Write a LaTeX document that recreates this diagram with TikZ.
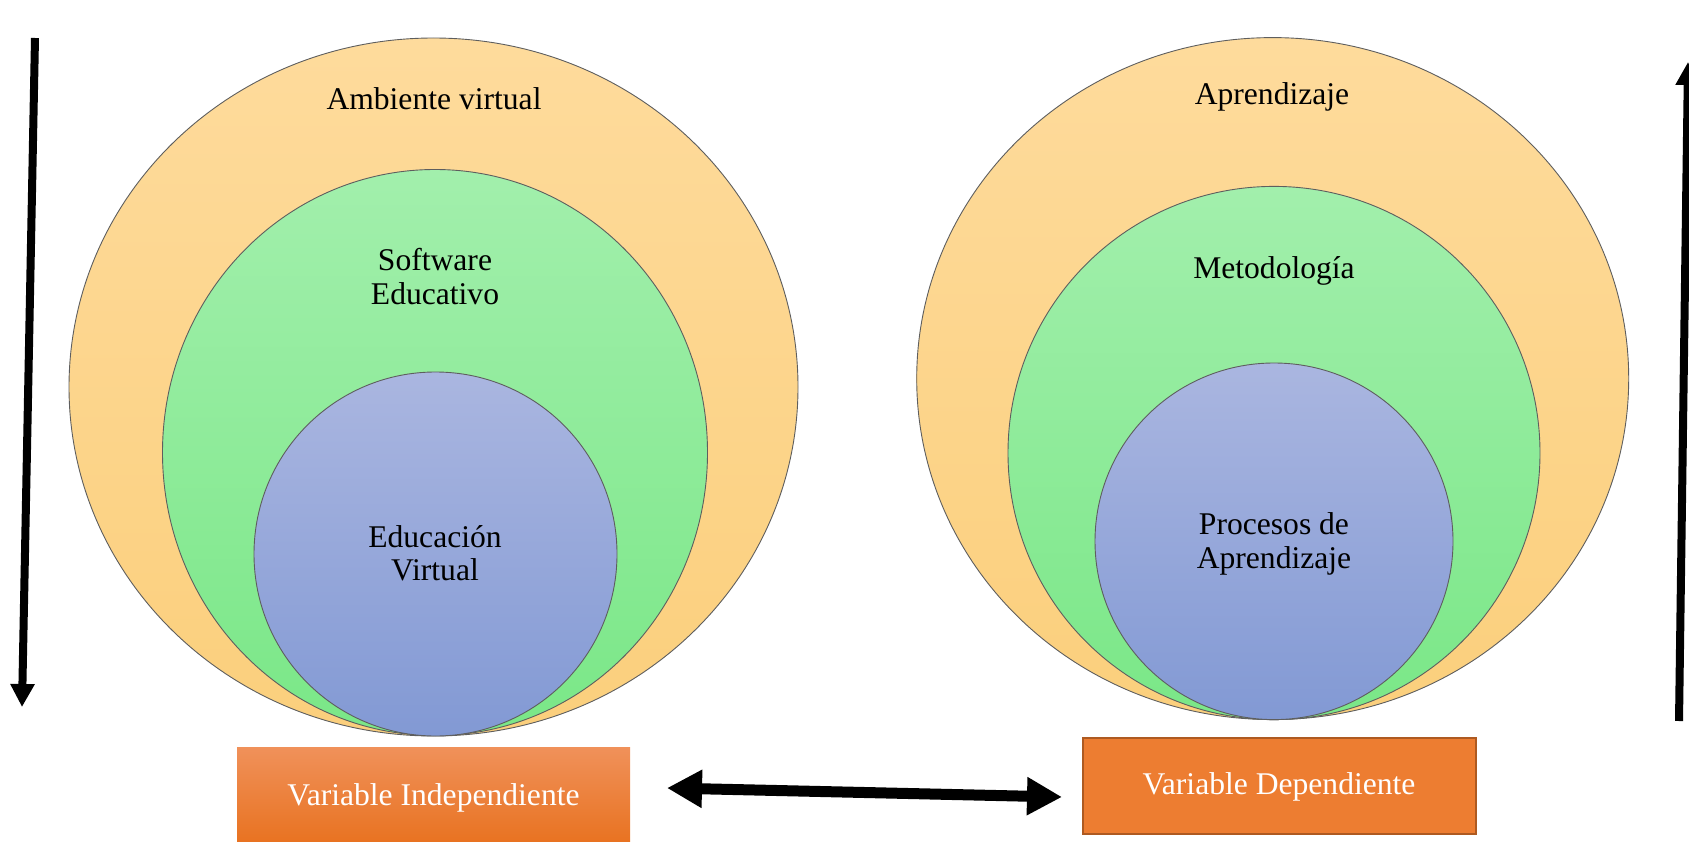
\documentclass[tikz,border=0pt]{standalone}
\usepackage{fontspec}
\setmainfont{Liberation Serif}
\usetikzlibrary{arrows.meta,calc}
\definecolor{orTop}{HTML}{FEDB9C}
\definecolor{orBot}{HTML}{FBCF7C}
\definecolor{grTop}{HTML}{A2EFAC}
\definecolor{grBot}{HTML}{7AE787}
\definecolor{blTop}{HTML}{AAB6E0}
\definecolor{blBot}{HTML}{8299D4}
\definecolor{rimcol}{HTML}{5E5E5E}
\definecolor{boxTop}{HTML}{F0915A}
\definecolor{boxBot}{HTML}{E8711E}
\definecolor{boxFill}{HTML}{ED7D31}
\definecolor{boxRim}{HTML}{AE5A21}
\tikzset{
  ring/.style={draw=rimcol, line width=0.9pt},
  outerring/.style={ring, top color=orTop, bottom color=orBot},
  midring/.style={ring, top color=grTop, bottom color=grBot},
  innerring/.style={ring, top color=blTop, bottom color=blBot},
  lbl/.style={font=\fontsize{31.6}{33.5}\selectfont, align=center, inner sep=0pt, text=black},
  boxlbl/.style={font=\fontsize{31.6}{33.5}\selectfont, text=white},
  bigarrow/.style={line width=8pt, -{Triangle[length=23pt,width=23pt]}},
  dblarrow/.style={line width=11pt, {Triangle[length=35pt,width=36pt]}-{Triangle[length=35pt,width=36pt]}},
}
\begin{document}
\begin{tikzpicture}[x=1pt,y=-1pt]
\useasboundingbox (0,0) rectangle (1689,842);
% left group
\draw[outerring] (433.5,387) ellipse [x radius=364.5, y radius=349];
\draw[midring] (435,452.5) ellipse [x radius=272.5, y radius=283];
\draw[innerring] (435.5,554) ellipse [x radius=181.5, y radius=182];
\node[lbl] (amb) at (434,99) {Ambiente virtual};
\node[lbl] (soft) at (435,276.5) {Software\\Educativo};
\node[lbl] (educ) at (435,553) {Educación\\Virtual};
% right group
\draw[outerring] (1272.7,378.6) ellipse [x radius=356, y radius=341];
\draw[midring] (1274,453) ellipse [x radius=266, y radius=266.6];
\draw[innerring] (1274,541.3) ellipse [x radius=179, y radius=178.3];
\node[lbl] (apr) at (1272,97) {Aprendizaje};
\node[lbl] (met) at (1274,271) {Metodología};
\node[lbl] (proc) at (1274,544) {Procesos de\\Aprendizaje};
% boxes
\node[boxlbl, draw=none, top color=boxTop, bottom color=boxBot, minimum width=393pt, minimum height=100pt, anchor=north west, inner sep=0pt] (vi) at (237,747) {};
\node[boxlbl] (vitext) at (433.5,798) {Variable Independiente};
\node[boxlbl, draw=boxRim, line width=2pt, fill=boxFill, minimum width=393pt, minimum height=96pt, anchor=north west, inner sep=0pt] (vd) at (1082,737) {};
\node[boxlbl] (vdtext) at (1279,787) {Variable Dependiente};
% arrows
\coordinate (la) at (667,788);
\coordinate (ra) at (1062,797);
\draw[dblarrow] (la) -- (ra);
\coordinate (lt) at (35,38);
\coordinate (lb) at (22,707);
\draw[bigarrow] (lt) -- (lb);
\coordinate (rb) at (1679,721);
\coordinate (rt) at (1688,62);
\draw[bigarrow] (rb) -- (rt);
\end{tikzpicture}
\end{document}
